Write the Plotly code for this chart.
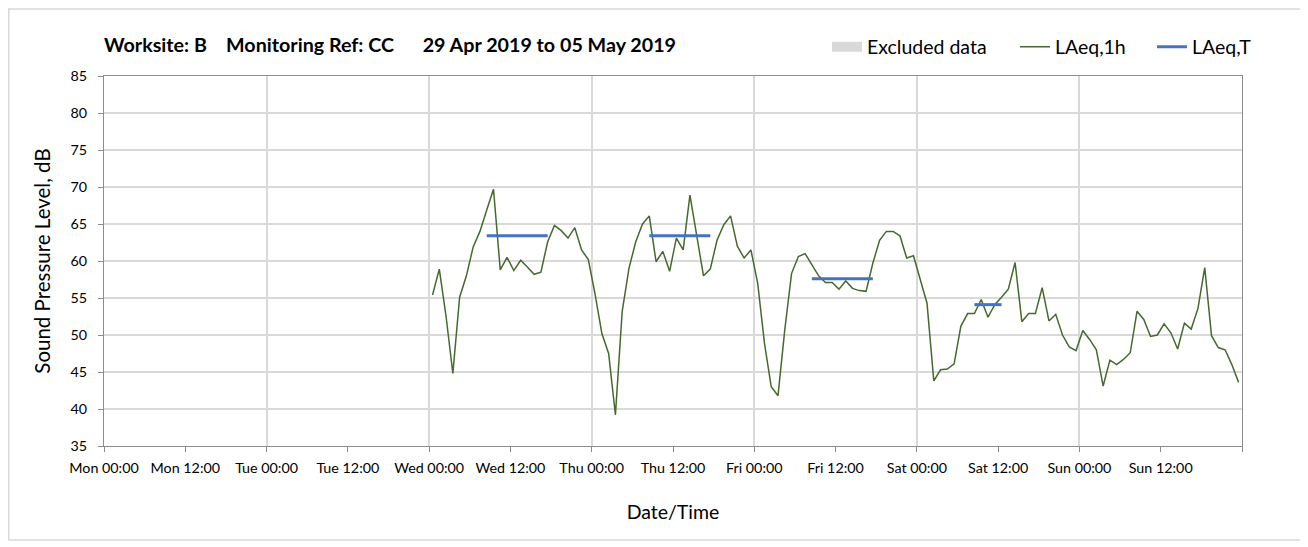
import pandas as pd
import plotly.graph_objects as go

# ---------------- data ----------------
title_text = ("Worksite: B\u00a0\u00a0\u00a0\u00a0Monitoring Ref: CC"
              "\u00a0\u00a0\u00a0\u00a0\u00a0\u00a029 Apr 2019 to 05 May 2019")

# hourly LAeq,1h values, Wed 01 May 2019 00:30 ... Sun 05 May 2019 23:30
laeq_1h_start = "2019-05-01 00:30"
laeq_1h = [
    # Wed
    55.4, 58.9, 52.5, 44.8, 55.1, 58.0, 61.9, 64.0, 66.9, 69.7, 58.8, 60.5,
    58.7, 60.1, 59.2, 58.2, 58.5, 62.6, 64.8, 64.1, 63.1, 64.5, 61.5, 60.2,
    # Thu
    55.5, 50.2, 47.5, 39.2, 53.2, 59.0, 62.6, 65.0, 66.1, 59.9, 61.3, 58.6,
    63.1, 61.5, 68.9, 63.5, 58.0, 58.9, 62.8, 64.9, 66.1, 62.0, 60.4, 61.5,
    # Fri
    57.0, 48.9, 43.0, 41.8, 50.7, 58.3, 60.6, 61.0, 59.5, 58.0, 57.1, 57.1,
    56.2, 57.3, 56.3, 56.0, 55.9, 59.7, 62.8, 64.0, 64.0, 63.4, 60.4, 60.7,
    # Sat
    57.5, 54.3, 43.8, 45.3, 45.4, 46.1, 51.2, 52.9, 52.9, 54.8, 52.4, 54.1,
    55.1, 56.2, 59.8, 51.8, 52.9, 52.9, 56.4, 51.9, 52.8, 50.0, 48.4, 47.9,
    # Sun
    50.6, 49.4, 48.0, 43.1, 46.6, 46.0, 46.7, 47.6, 53.2, 52.1, 49.8, 50.0,
    51.5, 50.3, 48.1, 51.6, 50.8, 53.6, 59.1, 49.9, 48.3, 48.0, 46.0, 43.6,
]

# LAeq,T period values
laeqT_start = ["2019-05-01 08:30", "2019-05-02 08:30", "2019-05-03 08:30", "2019-05-04 08:30"]
laeqT_end = ["2019-05-01 17:30", "2019-05-02 17:30", "2019-05-03 17:30", "2019-05-04 12:30"]
laeqT_value = [63.4, 63.4, 57.6, 54.1]

# excluded data (none in this period)
excluded_x = []
excluded_y = []

x_range = ["2019-04-29 00:00", "2019-05-06 00:00"]
y_range = [35, 85]

# ---------------- figure ----------------
times = pd.date_range(laeq_1h_start, periods=len(laeq_1h), freq="h")

tick_times = pd.date_range(x_range[0], x_range[1], freq="12h")
tick_text = [t.strftime("%a %H:%M") for t in tick_times]
tick_text[-1] = ""  # no label at the closing edge

tx, ty = [], []
for s, e, v in zip(laeqT_start, laeqT_end, laeqT_value):
    tx += [s, e, None]
    ty += [v, v, None]

FONT = "Lato, 'Open Sans', sans-serif"
GRID = "#D9D9D9"
AXIS = "#8C8C8C"

W, H = 1300, 539
ML, MR, MT, MB = 96, 66, 68, 101
PW, PH = W - ML - MR, H - MT - MB

fig = go.Figure()
fig.add_trace(go.Scatter(
    x=excluded_x if excluded_x else [None], y=excluded_y if excluded_y else [None],
    mode="lines", name="Excluded data", legend="legend",
    line=dict(color="#D9D9D9", width=11),
))
fig.add_trace(go.Scatter(
    x=times, y=laeq_1h, mode="lines", name="LAeq,1h", legend="legend2",
    line=dict(color="#46692E", width=1.5),
))
fig.add_trace(go.Scatter(
    x=tx, y=ty, mode="lines", name="LAeq,T", legend="legend3",
    line=dict(color="#4472C4", width=3),
))
# helper (empty) trace for the daily grid axis
fig.add_trace(go.Scatter(x=[None], y=[None], xaxis="x2", showlegend=False, hoverinfo="skip"))

leg_common = dict(
    orientation="h", xanchor="left", y=1.078, yanchor="middle",
    font=dict(size=19.5, family=FONT, color="#000000"),
    bgcolor="rgba(0,0,0,0)",
)

fig.update_layout(
    width=W, height=H,
    margin=dict(l=ML, r=MR, t=MT, b=MB),
    paper_bgcolor="white", plot_bgcolor="white",
    font=dict(family=FONT, color="#000000"),
    title=dict(
        text="<b>" + title_text + "</b>",
        x=ML / W, xanchor="left", y=1 - 37 / H, yanchor="middle",
        font=dict(size=19.7, family=FONT, color="#000000"),
    ),
    showlegend=True,
    legend=dict(x=0.6353, **leg_common),
    legend2=dict(x=0.8005, **leg_common),
    legend3=dict(x=0.9209, **leg_common),
    xaxis=dict(
        type="date", range=x_range,
        tickmode="array", tickvals=tick_times, ticktext=tick_text,
        ticks="outside", ticklen=5, tickcolor=AXIS, ticklabelstandoff=4,
        showgrid=False, zeroline=False,
        showline=True, linecolor=AXIS, linewidth=1, mirror=True,
        tickfont=dict(size=14.3, family=FONT, color="#000000"),
        title=dict(text="Date/Time", font=dict(size=19.5, family=FONT, color="#000000"), standoff=30),
    ),
    xaxis2=dict(
        type="date", range=x_range, overlaying="x", side="bottom",
        tickmode="linear", tick0=x_range[0], dtick=24 * 3600 * 1000,
        showgrid=True, gridcolor=GRID, gridwidth=1.5,
        showticklabels=False, ticks="", showline=False, zeroline=False,
    ),
    yaxis=dict(
        range=y_range, tickmode="linear", tick0=35, dtick=5,
        ticks="outside", ticklen=5, tickcolor=AXIS, ticklabelstandoff=8,
        showgrid=True, gridcolor=GRID, gridwidth=1.5, zeroline=False,
        showline=True, linecolor=AXIS, linewidth=1, mirror=True,
        tickfont=dict(size=14.3, family=FONT, color="#000000"),
        title=dict(text="Sound Pressure Level, dB", font=dict(size=20.5, family=FONT, color="#000000"), standoff=14),
    ),
    shapes=[dict(
        type="rect", xref="paper", yref="paper",
        x0=(0.75 - ML) / PW, x1=(1296 - ML) / PW,
        y0=(MT + PH - 532) / PH, y1=(MT + PH - 1) / PH,
        line=dict(color="#D9D9D9", width=1.5), fillcolor="rgba(0,0,0,0)", layer="below",
    )],
)

fig.write_html("out.html")
